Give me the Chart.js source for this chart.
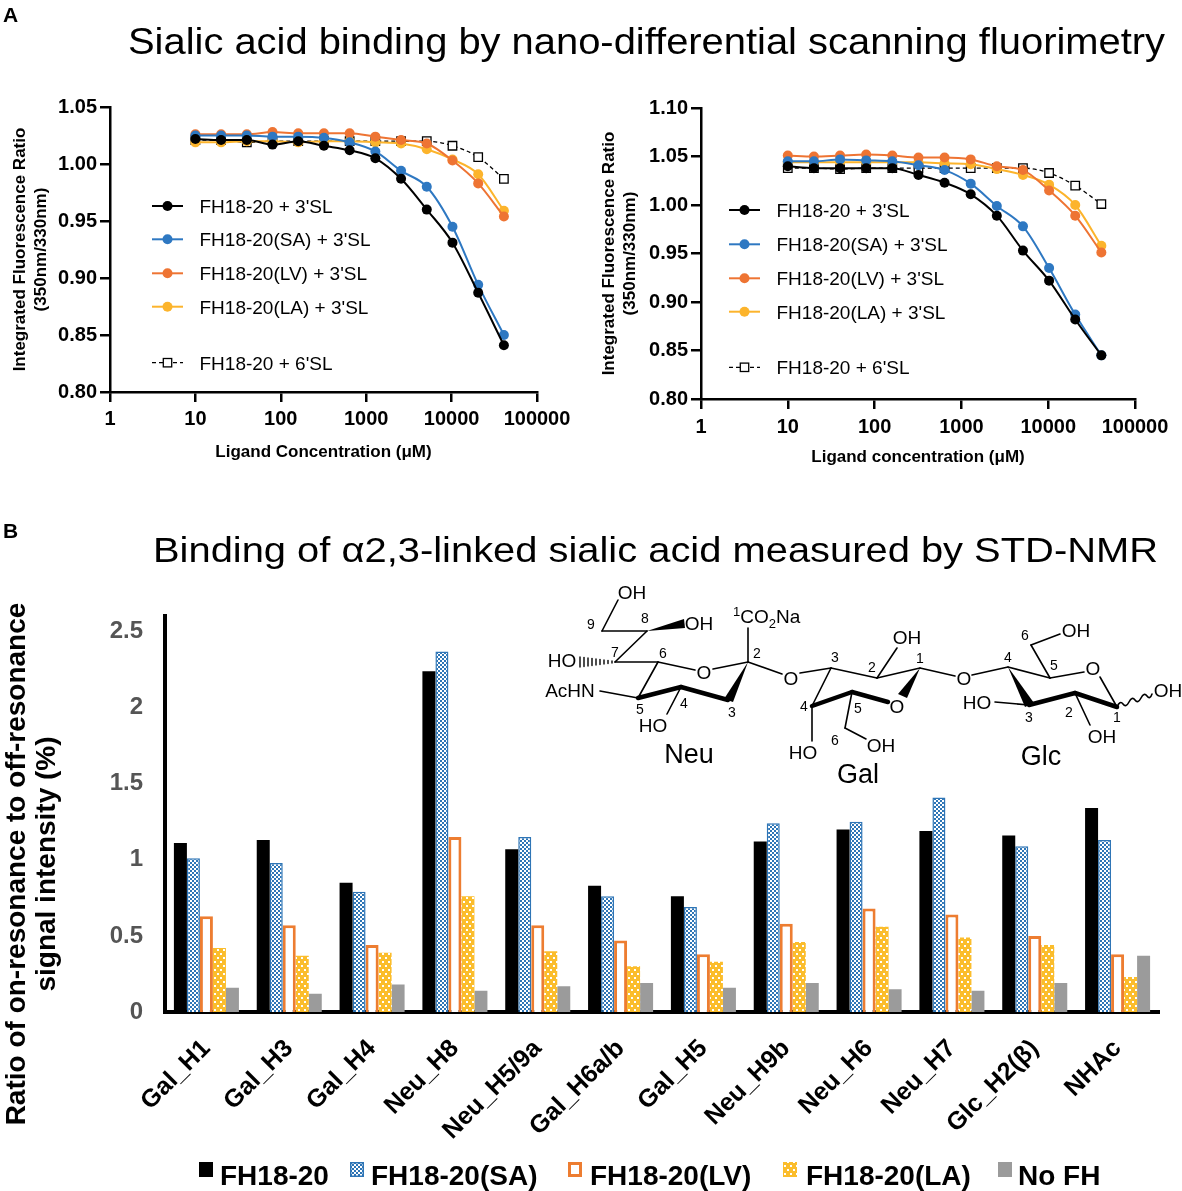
<!DOCTYPE html>
<html>
<head>
<meta charset="utf-8">
<script src="https://cdn.jsdelivr.net/npm/chart.js@4.4.1/dist/chart.umd.min.js"></script>
<style>
html, body { margin: 0; padding: 0; background: #fff; }
body { width: 1182px; height: 1191px; position: relative; overflow: hidden; font-family: 'Liberation Sans', Arial, sans-serif; }
canvas { position: absolute; }
#nd1 { left: 0; top: 90px; }
#nd2 { left: 590px; top: 90px; }
#std { left: 0; top: 580px; }
#overlay { position: absolute; left: 0; top: 0; pointer-events: none; }
</style>
</head>
<body>
<canvas id="nd1" width="590" height="385"></canvas>
<canvas id="nd2" width="592" height="385"></canvas>
<canvas id="std" width="1182" height="575"></canvas>

<svg id="overlay" width="1182" height="1191" font-family="'Liberation Sans', Arial, sans-serif">
  <defs>
    <pattern id="chk" width="4" height="4" patternUnits="userSpaceOnUse">
      <rect width="4" height="4" fill="#fff"/>
      <rect width="2" height="2" fill="#2e75b6"/>
      <rect x="2" y="2" width="2" height="2" fill="#2e75b6"/>
    </pattern>
    <pattern id="dots" width="6" height="8" patternUnits="userSpaceOnUse">
      <rect width="6" height="8" fill="#fbbd2c"/>
      <rect x="1" y="1" width="2" height="2" fill="#fff"/>
      <rect x="4" y="5" width="2" height="2" fill="#fff"/>
    </pattern>
  </defs>

  <!-- panel letters and titles -->
  <text x="3" y="22" font-size="21" font-weight="bold">A</text>
  <text x="128" y="54" font-size="36" textLength="1037" lengthAdjust="spacingAndGlyphs">Sialic acid binding by nano-differential scanning fluorimetry</text>
  <text x="3" y="538" font-size="21" font-weight="bold">B</text>
  <text x="153" y="562" font-size="35" textLength="1005" lengthAdjust="spacingAndGlyphs">Binding of α2,3-linked sialic acid measured by STD-NMR</text>

  <!-- legends of the two nanoDSF panels (filled by script) -->
  <g id="leg1"></g>
  <g id="leg2"></g>

  <!-- y title of the STD-NMR panel -->
  <g font-size="28" font-weight="bold" text-anchor="middle">
    <text transform="translate(25,864) rotate(-90)">Ratio of on-resonance to off-resonance</text>
    <text transform="translate(55,864) rotate(-90)">signal intensity (%)</text>
  </g>

  <!-- 3'SL structure -->
  <g stroke="#000" stroke-width="1.6" fill="none" stroke-linecap="round">
    <line x1="602" y1="631" x2="618" y2="600"/>
    <line x1="602" y1="631" x2="647" y2="631"/>
    <line x1="615" y1="662" x2="647" y2="631"/>
    <line x1="615" y1="662" x2="658" y2="662"/>
    <line x1="658" y1="662" x2="695" y2="670"/>
    <line x1="713" y1="669" x2="748" y2="662"/>
    <line x1="748" y1="662" x2="748" y2="628"/>
    <line x1="638" y1="698" x2="658" y2="662"/>
    <line x1="638" y1="698" x2="600" y2="691"/>
    <line x1="681" y1="687" x2="667" y2="714"/>
    <line x1="748" y1="662" x2="782" y2="674"/>
    <line x1="728" y1="700" x2="681" y2="687" stroke-width="4.5"/>
    <line x1="681" y1="687" x2="638" y2="698" stroke-width="4.5"/>

    <line x1="800" y1="673" x2="831" y2="668"/>
    <line x1="831" y1="668" x2="877" y2="678"/>
    <line x1="877" y1="678" x2="897" y2="648"/>
    <line x1="877" y1="678" x2="920" y2="668"/>
    <line x1="888" y1="702" x2="852" y2="692" stroke-width="4.5"/>
    <line x1="852" y1="692" x2="812" y2="706" stroke-width="4.5"/>
    <line x1="812" y1="706" x2="831" y2="668"/>
    <line x1="812" y1="706" x2="812" y2="741"/>
    <line x1="852" y1="692" x2="845" y2="728"/>
    <line x1="845" y1="728" x2="866" y2="739"/>
    <line x1="920" y1="668" x2="955" y2="676"/>

    <line x1="972" y1="675" x2="1008" y2="667"/>
    <line x1="1008" y1="667" x2="1050" y2="678"/>
    <line x1="1050" y1="678" x2="1031" y2="645"/>
    <line x1="1031" y1="645" x2="1060" y2="634"/>
    <line x1="1050" y1="678" x2="1084" y2="672"/>
    <line x1="1100" y1="677" x2="1117" y2="707"/>
    <path d="M1117,707 Q1120,700 1123,704 T1129,702 T1135,700 T1141,698 T1147,696 T1152,694"/>
    <line x1="1117" y1="707" x2="1075" y2="693" stroke-width="4.5"/>
    <line x1="1075" y1="693" x2="1029" y2="705" stroke-width="4.5"/>
    <line x1="1029" y1="705" x2="995" y2="702"/>
    <line x1="1075" y1="693" x2="1090" y2="725"/>
    <g stroke-width="1.4">
      <line x1="580" y1="657" x2="580" y2="667"/>
      <line x1="584" y1="657.5" x2="584" y2="666.5"/>
      <line x1="588" y1="658" x2="588" y2="666"/>
      <line x1="592" y1="658.5" x2="592" y2="665.5"/>
      <line x1="596" y1="659" x2="596" y2="665"/>
      <line x1="600" y1="659.5" x2="600" y2="664.5"/>
      <line x1="604" y1="660" x2="604" y2="664"/>
      <line x1="608" y1="660.5" x2="608" y2="663.5"/>
      <line x1="612" y1="661" x2="612" y2="663"/>
    </g>
  </g>
  <g fill="#000">
    <polygon points="647,631 684,619 685,628"/>
    <polygon points="748,662 724,699 733,702"/>
    <polygon points="920,668 898,694 907,698"/>
    <polygon points="1008,667 1025,707 1034,703"/>
  </g>
  <g font-size="19" text-anchor="middle" fill="#000">
    <text x="632" y="599">OH</text>
    <text x="699" y="630">OH</text>
    <text x="562" y="667">HO</text>
    <text x="704" y="679">O</text>
    <text x="570" y="697">AcHN</text>
    <text x="653" y="732">HO</text>
    <text x="733" y="623" text-anchor="start"><tspan font-size="13" dy="-7">1</tspan><tspan dy="7">CO</tspan><tspan font-size="13" dy="5">2</tspan><tspan dy="-5">Na</tspan></text>
    <text x="791" y="685">O</text>
    <text x="907" y="644">OH</text>
    <text x="897" y="713">O</text>
    <text x="803" y="759">HO</text>
    <text x="881" y="752">OH</text>
    <text x="964" y="685">O</text>
    <text x="1076" y="637">OH</text>
    <text x="1093" y="675">O</text>
    <text x="1168" y="697">OH</text>
    <text x="977" y="709">HO</text>
    <text x="1102" y="743">OH</text>
  </g>
  <g font-size="14" text-anchor="middle" fill="#000">
    <text x="591" y="629">9</text>
    <text x="645" y="623">8</text>
    <text x="615" y="657">7</text>
    <text x="663" y="658">6</text>
    <text x="757" y="658">2</text>
    <text x="640" y="714">5</text>
    <text x="684" y="708">4</text>
    <text x="732" y="717">3</text>
    <text x="835" y="662">3</text>
    <text x="872" y="672">2</text>
    <text x="920" y="663">1</text>
    <text x="858" y="713">5</text>
    <text x="804" y="711">4</text>
    <text x="835" y="745">6</text>
    <text x="1008" y="662">4</text>
    <text x="1054" y="670">5</text>
    <text x="1025" y="640">6</text>
    <text x="1117" y="722">1</text>
    <text x="1069" y="717">2</text>
    <text x="1029" y="722">3</text>
  </g>
  <g font-size="27" text-anchor="middle" fill="#000">
    <text x="689" y="763">Neu</text>
    <text x="858" y="783">Gal</text>
    <text x="1041" y="765">Glc</text>
  </g>

  <!-- STD-NMR legend -->
  <g>
    <rect x="199" y="1162" width="14" height="15" fill="#000"/>
    <rect x="350.75" y="1162.75" width="12.5" height="13.5" fill="url(#chk)" stroke="#2e75b6" stroke-width="1.5"/>
    <rect x="569.5" y="1163.5" width="11" height="12" fill="#fff" stroke="#ed7d31" stroke-width="3"/>
    <rect x="783" y="1162" width="14" height="15" fill="url(#dots)"/>
    <rect x="998" y="1162" width="14" height="15" fill="#9b9b9b"/>
  </g>
  <g id="stdLegend" font-size="28" font-weight="bold" fill="#000"></g>
</svg>

<script>
// nanoDSF: ligand concentrations (µM) and tick values
const concentrations = [10, 20, 40, 80, 160, 320, 640, 1280, 2560, 5120, 10240, 20480, 40960];
const logTicks = [1, 10, 100, 1000, 10000, 100000];
const seriesNames = ["FH18-20 + 3'SL", "FH18-20(SA) + 3'SL", "FH18-20(LV) + 3'SL", "FH18-20(LA) + 3'SL", "FH18-20 + 6'SL"];
const seriesColors = ['#000000', '#2e78c2', '#ee7433', '#fcb42c', '#000000'];

// left panel
const nd1Wt  = [1.022, 1.021, 1.021, 1.017, 1.020, 1.016, 1.012, 1.005, 0.987, 0.960, 0.931, 0.887, 0.841];
const nd1Sa  = [1.025, 1.025, 1.025, 1.024, 1.024, 1.023, 1.019, 1.011, 0.994, 0.980, 0.945, 0.894, 0.850];
const nd1Lv  = [1.026, 1.026, 1.026, 1.028, 1.027, 1.027, 1.027, 1.024, 1.021, 1.018, 1.003, 0.983, 0.954];
const nd1La  = [1.019, 1.019, 1.020, 1.020, 1.019, 1.020, 1.020, 1.019, 1.018, 1.013, 1.004, 0.991, 0.959];
const nd1Sl6 = [1.021, 1.021, 1.019, 1.020, 1.020, 1.020, 1.020, 1.020, 1.020, 1.020, 1.016, 1.006, 0.987];

// right panel
const nd2Wt  = [1.040, 1.038, 1.038, 1.038, 1.038, 1.031, 1.023, 1.011, 0.989, 0.953, 0.922, 0.882, 0.845];
const nd2Sa  = [1.045, 1.045, 1.047, 1.046, 1.045, 1.041, 1.036, 1.022, 0.999, 0.978, 0.935, 0.887, 0.845];
const nd2Lv  = [1.051, 1.050, 1.051, 1.052, 1.051, 1.049, 1.049, 1.047, 1.040, 1.036, 1.015, 0.989, 0.951];
const nd2La  = [1.044, 1.044, 1.044, 1.044, 1.044, 1.044, 1.043, 1.042, 1.037, 1.031, 1.021, 1.000, 0.958];
const nd2Sl6 = [1.038, 1.038, 1.037, 1.038, 1.038, 1.038, 1.038, 1.038, 1.038, 1.038, 1.033, 1.020, 1.001];

// STD-NMR
const protons = ['Gal_H1', 'Gal_H3', 'Gal_H4', 'Neu_H8', 'Neu_H5/9a', 'Gal_H6a/b', 'Gal_H5', 'Neu_H9b', 'Neu_H6', 'Neu_H7', 'Glc_H2(β)', 'NHAc'];
const stdNames = ['FH18-20', 'FH18-20(SA)', 'FH18-20(LV)', 'FH18-20(LA)', 'No FH'];
const stdWt   = [1.11, 1.13, 0.85, 2.24, 1.07, 0.83, 0.76, 1.12, 1.20, 1.19, 1.16, 1.34];
const stdSa   = [1.01, 0.98, 0.79, 2.37, 1.15, 0.76, 0.69, 1.24, 1.25, 1.41, 1.09, 1.13];
const stdLv   = [0.63, 0.57, 0.44, 1.15, 0.57, 0.47, 0.38, 0.58, 0.68, 0.64, 0.50, 0.38];
const stdLa   = [0.42, 0.37, 0.39, 0.76, 0.40, 0.30, 0.33, 0.46, 0.56, 0.49, 0.44, 0.23];
const stdNoFh = [0.16, 0.12, 0.18, 0.14, 0.17, 0.19, 0.16, 0.19, 0.15, 0.14, 0.19, 0.37];
const stdTicks = [0, 0.5, 1, 1.5, 2, 2.5];

Chart.defaults.font.family = "'Liberation Sans', Arial, sans-serif";
Chart.defaults.color = '#000';
Chart.defaults.animation = false;

function pts(vals) {
    return concentrations.map((c, i) => ({ x: c, y: vals[i] }));
}

function ndDatasets(sets) {
    return sets.map((vals, i) => {
        const dashed = i === 4;
        return {
            label: seriesNames[i],
            data: pts(vals),
            borderColor: seriesColors[i],
            backgroundColor: dashed ? '#fff' : seriesColors[i],
            borderWidth: dashed ? 1.3 : 2,
            borderDash: dashed ? [4, 3] : [],
            pointStyle: dashed ? 'rect' : 'circle',
            pointRadius: dashed ? 6 : 5,
            pointBorderWidth: dashed ? 1.3 : 0,
            pointBorderColor: seriesColors[i],
            cubicInterpolationMode: 'monotone',
            tension: 0.4
        };
    });
}

function ndChart(id, sets, yMax, xTitle, box) {
    const ctx = document.getElementById(id).getContext('2d');
    return new Chart(ctx, {
        type: 'line',
        data: { datasets: ndDatasets(sets) },
        options: {
            responsive: false,
            maintainAspectRatio: false,
            layout: { padding: { top: box.top, right: box.right, left: 0, bottom: 0 } },
            plugins: { legend: { display: false }, tooltip: { enabled: false } },
            scales: {
                x: {
                    type: 'logarithmic',
                    min: 1,
                    max: 100000,
                    afterBuildTicks: s => { s.ticks = logTicks.map(v => ({ value: v })); },
                    afterFit: s => { s.height = box.xh; },
                    ticks: { callback: v => String(v), font: { size: 20, weight: 'bold' }, color: '#000', padding: box.xpad, maxRotation: 0, autoSkip: false },
                    grid: { display: true, drawOnChartArea: false, drawTicks: true, tickLength: 10, color: '#000', lineWidth: 2.5 },
                    border: { display: true, color: '#000', width: 2.5 },
                    title: { display: true, text: xTitle, color: '#000', font: { size: 17, weight: 'bold' }, padding: { top: 0, bottom: box.xtp } }
                },
                y: {
                    min: 0.80,
                    max: yMax,
                    afterFit: s => { s.width = box.yw; },
                    ticks: { stepSize: 0.05, callback: v => v.toFixed(2), font: { size: 20, weight: 'bold' }, color: '#000', padding: 3 },
                    grid: { display: true, drawOnChartArea: false, drawTicks: true, tickLength: 10, color: '#000', lineWidth: 2.5 },
                    border: { display: true, color: '#000', width: 2.5 },
                    title: { display: true, text: ['Integrated Fluorescence Ratio', '(350nm/330nm)'], color: '#000', font: { size: 17, weight: 'bold', lineHeight: 1.22 }, padding: { top: box.ytp, bottom: 0 } }
                }
            }
        }
    });
}

ndChart('nd1', [nd1Wt, nd1Sa, nd1Lv, nd1La, nd1Sl6], 1.05, 'Ligand Concentration (μM)', { top: 17, right: 53, xh: 83, yw: 110, xtp: 12, ytp: 10, xpad: 5 });
ndChart('nd2', [nd2Wt, nd2Sa, nd2Lv, nd2La, nd2Sl6], 1.10, 'Ligand concentration (μM)', { top: 18, right: 47, xh: 76, yw: 111, xtp: 7, ytp: 9, xpad: 6 });

// legends of the nanoDSF panels
const svgNS = 'http://www.w3.org/2000/svg';
function el(tag, attrs, parent, text) {
    const e = document.createElementNS(svgNS, tag);
    for (const k in attrs) e.setAttribute(k, attrs[k]);
    if (text !== undefined) e.textContent = text;
    parent.appendChild(e);
    return e;
}
function ndLegend(gid, x0, rows) {
    const g = document.getElementById(gid);
    rows.forEach((y, i) => {
        const dashed = i === 4;
        const cx = x0 + 15.5;
        el('line', { x1: x0, y1: y, x2: x0 + 31, y2: y, stroke: seriesColors[i], 'stroke-width': dashed ? 1.3 : 2, 'stroke-dasharray': dashed ? '4 3' : 'none' }, g);
        if (dashed) {
            el('rect', { x: cx - 4.2, y: y - 4.2, width: 8.4, height: 8.4, fill: '#fff', stroke: '#000', 'stroke-width': 1.3 }, g);
        } else {
            el('circle', { cx: cx, cy: y, r: 5, fill: seriesColors[i] }, g);
        }
        el('text', { x: x0 + 47.5, y: y + 7, 'font-size': 19, fill: '#000' }, g, seriesNames[i]);
    });
}
ndLegend('leg1', 152, [206, 239.3, 273.3, 306.7, 362.7]);
ndLegend('leg2', 729, [210, 244.3, 278.3, 311.7, 367.3]);

// STD-NMR legend text
const stdLegendX = [220, 371, 590, 806, 1018];
const sg = document.getElementById('stdLegend');
stdNames.forEach((n, i) => el('text', { x: stdLegendX[i], y: 1185 }, sg, n));

// bar fill patterns
function makePattern(w, h, draw) {
    const c = document.createElement('canvas');
    c.width = w; c.height = h;
    draw(c.getContext('2d'));
    return document.getElementById('std').getContext('2d').createPattern(c, 'repeat');
}
const checker = makePattern(4, 4, p => {
    p.fillStyle = '#fff'; p.fillRect(0, 0, 4, 4);
    p.fillStyle = '#2e75b6'; p.fillRect(0, 0, 2, 2); p.fillRect(2, 2, 2, 2);
});
const dotted = makePattern(6, 8, p => {
    p.fillStyle = '#fbbd2c'; p.fillRect(0, 0, 6, 8);
    p.fillStyle = '#fff'; p.fillRect(1, 1, 2, 2); p.fillRect(4, 5, 2, 2);
});

new Chart(document.getElementById('std').getContext('2d'), {
    type: 'bar',
    data: {
        labels: protons,
        datasets: [
            { label: stdNames[0], data: stdWt, backgroundColor: '#000', borderWidth: 0 },
            { label: stdNames[1], data: stdSa, backgroundColor: checker, borderColor: '#2e75b6', borderWidth: 1.5 },
            { label: stdNames[2], data: stdLv, backgroundColor: '#fff', borderColor: '#ed7d31', borderWidth: 3 },
            { label: stdNames[3], data: stdLa, backgroundColor: dotted, borderWidth: 0 },
            { label: stdNames[4], data: stdNoFh, backgroundColor: '#9b9b9b', borderWidth: 0 }
        ]
    },
    options: {
        responsive: false,
        maintainAspectRatio: false,
        layout: { padding: { top: 25, right: 23, left: 0, bottom: 0 } },
        datasets: { bar: { categoryPercentage: 0.785, barPercentage: 1.0 } },
        plugins: { legend: { display: false }, tooltip: { enabled: false } },
        scales: {
            x: {
                afterFit: s => { s.height = 143; },
                ticks: { font: { size: 25, weight: 'bold' }, color: '#000', minRotation: 45, maxRotation: 45, autoSkip: false, padding: 22 },
                grid: { display: false, drawTicks: false },
                border: { display: true, color: '#000', width: 4 }
            },
            y: {
                min: 0,
                max: 2.6,
                afterFit: s => { s.width = 165; },
                afterBuildTicks: s => { s.ticks = stdTicks.map(v => ({ value: v })); },
                ticks: { callback: v => String(v), font: { size: 24, weight: 'bold' }, color: '#555', padding: 22 },
                grid: { display: false, drawTicks: false },
                border: { display: true, color: '#000', width: 4 }
            }
        }
    }
});
</script>
</body>
</html>
